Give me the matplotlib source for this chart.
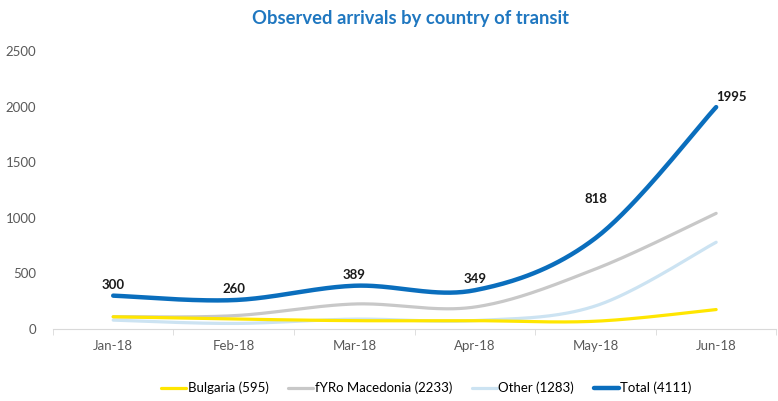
import numpy as np
import matplotlib
matplotlib.use('Agg')
import matplotlib.pyplot as plt

months = ['Jan-18', 'Feb-18', 'Mar-18', 'Apr-18', 'May-18', 'Jun-18']
bulgaria = [110, 90, 75, 75, 70, 175]
macedonia = [110, 120, 225, 198, 540, 1040]
other = [80, 50, 89, 76, 208, 780]
total = [300, 260, 389, 349, 818, 1995]
label_offsets = [(0, 3.5), (0, 3.5), (0, 3.5), (0, 3.5), (0, 24), (11, 3)]

plt.rcParams['font.family'] = ['Lato', 'DejaVu Sans']


def smooth(xs, ys, n=40):
    # excel style smoothed line: cubic bezier through each point
    xs = np.asarray(xs, float)
    ys = np.asarray(ys, float)
    px, py = [], []
    for i in range(len(xs) - 1):
        x0, y0 = xs[max(i - 1, 0)], ys[max(i - 1, 0)]
        x1, y1 = xs[i], ys[i]
        x2, y2 = xs[i + 1], ys[i + 1]
        x3, y3 = xs[min(i + 2, len(xs) - 1)], ys[min(i + 2, len(xs) - 1)]
        c1x, c1y = x1 + (x2 - x0) / 6, y1 + (y2 - y0) / 6
        c2x, c2y = x2 - (x3 - x1) / 6, y2 - (y3 - y1) / 6
        t = np.linspace(0, 1, n)
        px.append((1-t)**3*x1 + 3*(1-t)**2*t*c1x + 3*(1-t)*t**2*c2x + t**3*x2)
        py.append((1-t)**3*y1 + 3*(1-t)**2*t*c1y + 3*(1-t)*t**2*c2y + t**3*y2)
    return np.concatenate(px), np.concatenate(py)


fig = plt.figure(figsize=(7.78, 4.01), dpi=100)
ax = fig.add_axes([0.068, 0.1795, 0.93, 0.6935])

x = np.arange(len(months))
series = [
    ('Bulgaria (595)', bulgaria, '#FFE600', 2.3, 4),
    ('fYRo Macedonia (2233)', macedonia, '#C8C8C8', 2.3, 2),
    ('Other (1283)', other, '#CCE3F2', 2.3, 3),
    ('Total (4111)', total, '#0A6EBD', 3.2, 5),
]
for name, vals, col, lw, z in series:
    sx, sy = smooth(x, vals)
    ax.plot(sx, sy, color=col, lw=lw, label=name, zorder=z, solid_capstyle='round')

for xi, v, off in zip(x, total, label_offsets):
    ax.annotate(str(v), (xi, v), xytext=off, textcoords='offset points',
                ha='center', va='bottom', fontsize=9.5, fontweight='bold', color='#1a1a1a')

ax.set_xlim(-0.5, 5.5)
ax.set_ylim(0, 2500)
ax.set_yticks(range(0, 2501, 500))
ax.set_xticks(x)
ax.set_xticklabels(months)
ax.set_xticks(np.arange(-0.5, 6, 1), minor=True)
ax.tick_params(axis='x', which='major', length=0, pad=8, labelsize=9.5, labelcolor='#595959')
ax.tick_params(axis='x', which='minor', length=4, color='#D9D9D9')
ax.tick_params(axis='y', length=0, pad=12, labelsize=9.5, labelcolor='#595959')
for s in ['top', 'right', 'left']:
    ax.spines[s].set_visible(False)
ax.spines['bottom'].set_color('#D9D9D9')

fig.text(0.527, 0.955, 'Observed arrivals by country of transit', ha='center', va='center',
         fontsize=13.2, fontweight='bold', color='#1F77C0')

fig.legend(loc='center', bbox_to_anchor=(0.548, 0.032), ncol=4, frameon=False,
           fontsize=9.5, handlelength=1.9, handletextpad=0.1, columnspacing=1.5)

fig.savefig('out.png', dpi=100)
